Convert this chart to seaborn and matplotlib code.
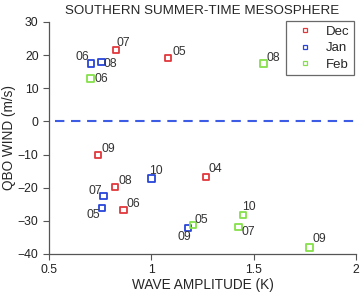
import matplotlib
matplotlib.use("Agg")
import matplotlib.pyplot as plt
import pandas as pd
import seaborn as sns

# valores
meses = ["Dec", "Jan", "Feb"]
amp_dec = [0.827, 1.081, 0.739, 0.822, 0.865, 1.267]
viento_dec = [21.5, 19.1, -10.1, -19.8, -26.7, -16.8]
anio_dec = ["07", "05", "09", "08", "06", "04"]

amp_jan = [0.705, 0.757, 1.002, 0.767, 0.759, 1.179]
viento_jan = [17.5, 17.9, -17.2, -22.5, -26.1, -32.1]
anio_jan = ["06", "08", "10", "07", "05", "09"]

amp_feb = [0.702, 1.549, 1.203, 1.448, 1.425, 1.772]
viento_feb = [13.0, 17.5, -31.3, -28.2, -31.9, -38.0]
anio_feb = ["06", "08", "05", "10", "07", "09"]

# desplazamiento de las etiquetas (pixeles)
offs_dec = [(7.5, 7), (11, 6), (10, 6), (10, 6), (10, 6), (9, 8)]
offs_jan = [(-9, 6), (9, -1.5), (4, 7), (-8, 5), (-9, -7), (-4, -9)]
offs_feb = [(11, -1), (9.5, 5), (8, 5), (6, 8), (10, -5), (10, 8)]

colores = {"Dec": "#e0383c", "Jan": "#2845d8", "Feb": "#86e04a"}

df = pd.DataFrame({
    "amp": amp_dec + amp_jan + amp_feb,
    "viento": viento_dec + viento_jan + viento_feb,
    "anio": anio_dec + anio_jan + anio_feb,
    "mes": ["Dec"] * 6 + ["Jan"] * 6 + ["Feb"] * 6,
})
offsets = offs_dec + offs_jan + offs_feb

sns.set_style("ticks")
plt.rcParams["font.family"] = ["Liberation Sans", "DejaVu Sans"]

fig = plt.figure(figsize=(3.61, 2.98), dpi=100)
ax = fig.add_axes([49 / 361, 44 / 298, 307 / 361, 232 / 298])

sns.scatterplot(data=df, x="amp", y="viento", hue="mes", hue_order=meses,
                palette=colores, marker="s", s=22, facecolor="none",
                linewidth=1.3, ax=ax, legend=False)
# bordes de color (scatter hueco)
for coll in ax.collections:
    fc = coll.get_facecolors()
    coll.set_edgecolors(fc)
    coll.set_facecolors("none")

for (x, y, t), (dx, dy) in zip(df[["amp", "viento", "anio"]].values, offsets):
    ax.annotate(t, (x, y), xytext=(dx, dy), textcoords="offset pixels",
                ha="center", va="center", fontsize=8.8, color="#333333")

ax.axhline(0, xmin=0.02, color="#3d5ce6", linestyle=(0, (4.5, 3.2)), linewidth=1.5)

ax.set_xlim(0.5, 2)
ax.set_ylim(-40, 30)
ax.set_xticks([0.5, 1, 1.5, 2])
ax.set_xticklabels(["0.5", "1", "1.5", "2"])
ax.set_yticks(range(-40, 31, 10))
ax.tick_params(labelsize=8.8, length=4, color="#555555", width=0.8, colors="#222222")
for sp in ("top", "right"):
    ax.spines[sp].set_visible(False)
for sp in ("left", "bottom"):
    ax.spines[sp].set_color("#555555")
    ax.spines[sp].set_linewidth(0.9)

ax.set_xlabel("WAVE AMPLITUDE (K)", fontsize=9.8, labelpad=1)
ax.set_ylabel("QBO WIND (m/s)", fontsize=9.8, labelpad=1)
ax.set_title("SOUTHERN SUMMER-TIME MESOSPHERE", fontsize=9.6, pad=6)

handles = [plt.Line2D([], [], marker="s", linestyle="none", markersize=3.5,
                      markerfacecolor="none", markeredgecolor=colores[m],
                      markeredgewidth=0.9, label=m) for m in meses]
leg = ax.legend(handles=handles, loc="upper right", bbox_to_anchor=(0.994, 1.005),
                borderaxespad=0, fontsize=9.5, frameon=True, fancybox=False,
                handlelength=2.2, handletextpad=0.5, borderpad=0.35, labelspacing=0.32)
leg.get_frame().set_edgecolor("#444444")
leg.get_frame().set_linewidth(0.9)

fig.savefig("out.png", dpi=100)
